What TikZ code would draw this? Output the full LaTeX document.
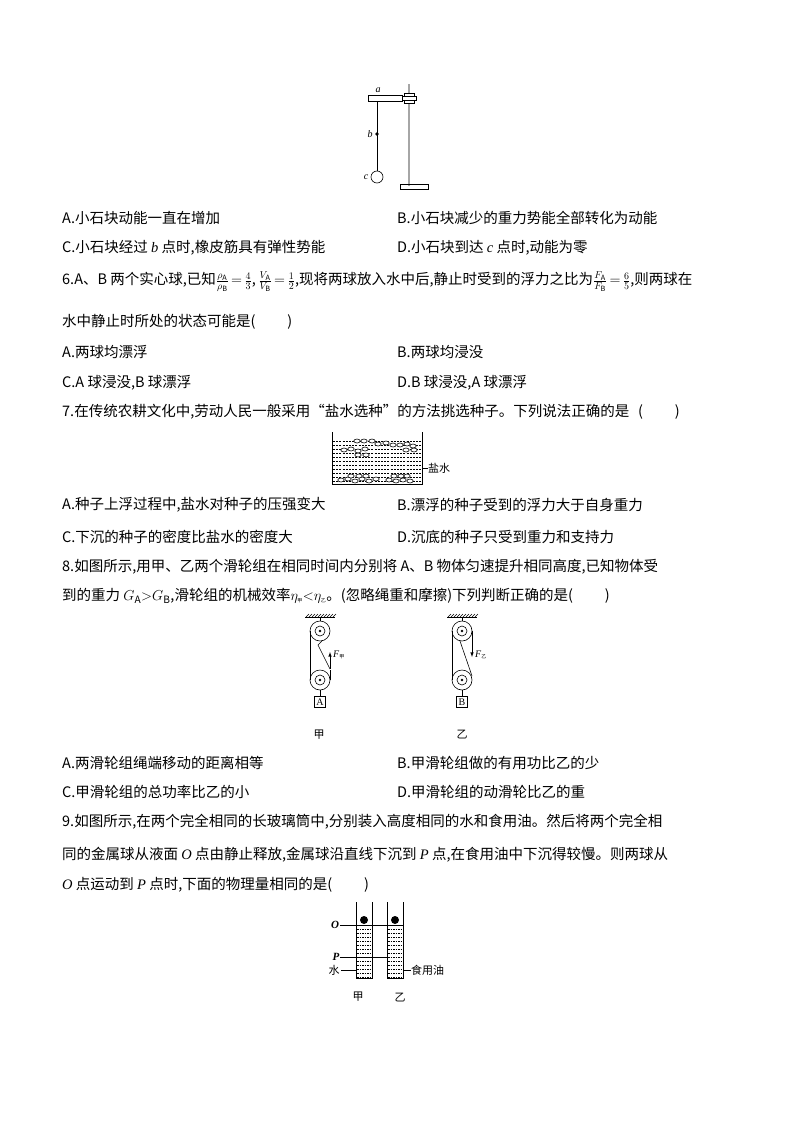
\documentclass[tikz,border=0pt]{standalone}
\usepackage{fontspec}
\setmainfont{Noto Sans CJK SC}
\newfontfamily\lat{Liberation Serif}
\begin{document}
\begin{tikzpicture}[x=1pt,y=-1pt,
  txt/.style={anchor=west,inner sep=0,font=\fontsize{14.5}{17}\selectfont},
  lab/.style={inner sep=0,font=\fontsize{11}{12}\selectfont},
  il/.style={inner sep=0,font=\fontsize{10}{12}\lat\itshape},
  thin/.style={line width=0.6pt}]
\useasboundingbox (0,0) rectangle (794,1124);
% figure 1
\draw[line width=2.6pt,gray!70] (409,84) -- (409,186);
\draw[thin] (400,184) rectangle (428,189);
\draw[thin,fill=white] (368,95) rectangle (402,101);
\draw[thin,fill=white] (404,93) rectangle (414,103);
\draw[thin,fill=white] (402,96) rectangle (416,100);
\draw[thin] (377,101) -- (377,171);
\node[circle,fill,inner sep=1.3pt] (b) at (377,134) {};
\node[circle,draw,thin,minimum size=12pt,inner sep=0] (c) at (377,177) {};
\node[il] at (378,90) {a};
\node[il] at (370,134) {b};
\node[il] at (366,177) {c};
% text
\node[txt] at (62,218) {A.小石块动能一直在增加};
\node[txt] at (397,218) {B.小石块减少的重力势能全部转化为动能};
\node[txt] at (62,248) {C.小石块经过 \textit{\lat b} 点时,橡皮筋具有弹性势能};
\node[txt] at (397,248) {D.小石块到达 \textit{\lat c} 点时,动能为零};
\node[txt] at (62,282) {6.A、B 两个实心球,已知$\frac{\rho_{\rm A}}{\rho_{\rm B}}\,{=}\,\frac{4}{3}$,\,$\frac{V_{\rm A}}{V_{\rm B}}\,{=}\,\frac{1}{2}$,现将两球放入水中后,静止时受到的浮力之比为$\frac{F_{\rm A}}{F_{\rm B}}\,{=}\,\frac{6}{5}$,则两球在};
\node[txt] at (62,322) {水中静止时所处的状态可能是(\hspace{2.2em})};
\node[txt] at (62,352) {A.两球均漂浮};
\node[txt] at (397,352) {B.两球均浸没};
\node[txt] at (62,383) {C.A 球浸没,B 球漂浮};
\node[txt] at (397,383) {D.B 球浸没,A 球漂浮};
\node[txt] at (62,412) {7.在传统农耕文化中,劳动人民一般采用“盐水选种”的方法挑选种子。下列说法正确的是\hspace{0.6em}(\hspace{2.2em})};
% salt water
\draw[thin] (332,432) -- (332,484) -- (422,484) -- (422,432);
\foreach \y in {441,445,...,483} \draw[thin,dash pattern=on 2pt off 1.2pt] (333,\y) -- (421,\y);
\foreach \x/\y in {357/441, 364/441, 372/441, 378/444, 386/443, 393/445, 400/445, 407/444, 413/446, 344/450, 351/449, 358/451, 365/449, 358/455, 366/455, 406/450, 414/450,
  341/480, 348/479, 355/481, 362/479, 369/481, 376/479, 351/476, 359/476, 366/476, 389/480, 396/481, 403/480, 410/481, 394/476, 401/476, 407/476}
  \draw[thin,fill=white] (\x,\y) ellipse (3.2pt and 2pt);
\draw[thin] (422,468) -- (428,468);
\node[lab,anchor=west] at (428,468) {盐水};
\node[txt] at (62,505) {A.种子上浮过程中,盐水对种子的压强变大};
\node[txt] at (397,505) {B.漂浮的种子受到的浮力大于自身重力};
\node[txt] at (62,537) {C.下沉的种子的密度比盐水的密度大};
\node[txt] at (397,537) {D.沉底的种子只受到重力和支持力};
\node[txt] at (62,567) {8.如图所示,用甲、乙两个滑轮组在相同时间内分别将 A、B 物体匀速提升相同高度,已知物体受};
\node[txt] at (62,596) {到的重力 $G_{\rm A}{>}G_{\rm B}$,滑轮组的机械效率$\eta_{\hbox{\tiny 甲}}{<}\eta_{\hbox{\tiny 乙}}$。(忽略绳重和摩擦)下列判断正确的是(\hspace{2.2em})};
% pulleys
\foreach \cx/\nm in {320/ja,462/yi}{
  \draw[thin] (\cx-15,617) -- (\cx+15,617);
  \foreach \i in {0,...,9} \draw[thin] (\cx-14+3*\i,617) -- (\cx-11+3*\i,614);
  \draw[thin] (\cx,617) -- (\cx,621);
  \node[circle,draw,thin,minimum size=20pt,inner sep=0] (\nm f) at (\cx,631) {};
  \draw[thin] (\cx,631) circle (5pt); \fill (\cx,631) circle (1.3pt);
  \node[circle,draw,thin,minimum size=20pt,inner sep=0] (\nm m) at (\cx,680) {};
  \draw[thin] (\cx,680) circle (5pt); \fill (\cx,680) circle (1.3pt);
  \draw[thin] (\cx,690) -- (\cx,696);
}
\draw[thin] (310,631) -- (310,680);
\draw[thin] (322,641) -- (318,645) -- (330,669);
\draw[thin] (330,680) -- (330,670);
\draw[thin,-latex] (330,669) -- (330,652);
\node[il,anchor=west] at (333,655) {F\textsubscript{\tiny\normalfont 甲}};
\draw[thin] (452,631) -- (452,680);
\draw[thin] (460,641) -- (472,676);
\draw[thin,-latex] (472,631) -- (472,657);
\node[il,anchor=west] at (475,655) {F\textsubscript{\tiny\normalfont 乙}};
\node[draw,thin,minimum size=11pt,inner sep=0,font=\fontsize{10}{11}\lat] (A) at (320,702) {A};
\node[draw,thin,minimum size=11pt,inner sep=0,font=\fontsize{10}{11}\lat] (B) at (462,702) {B};
\node[lab] at (319,735) {甲};
\node[lab] at (462,735) {乙};
\node[txt] at (62,763) {A.两滑轮组绳端移动的距离相等};
\node[txt] at (397,763) {B.甲滑轮组做的有用功比乙的少};
\node[txt] at (62,792) {C.甲滑轮组的总功率比乙的小};
\node[txt] at (397,792) {D.甲滑轮组的动滑轮比乙的重};
\node[txt] at (62,822) {9.如图所示,在两个完全相同的长玻璃筒中,分别装入高度相同的水和食用油。然后将两个完全相};
\node[txt] at (62,855) {同的金属球从液面 \textit{\lat O} 点由静止释放,金属球沿直线下沉到 \textit{\lat P} 点,在食用油中下沉得较慢。则两球从};
\node[txt] at (62,885) {\textit{\lat O} 点运动到 \textit{\lat P} 点时,下面的物理量相同的是(\hspace{2.2em})};
% tubes
\foreach \x in {356,387}{
  \draw[thin] (\x,902) -- (\x,978) -- (\x+16,978) -- (\x+16,902);
  \foreach \y in {929,933,...,977} \draw[thin,dash pattern=on 1.5pt off 1pt] (\x+1,\y) -- (\x+15,\y);
  \fill (\x+8,920) circle (4pt);
}
\draw[thin] (340,925) -- (403,925);
\draw[thin] (340,957) -- (387,957);
\draw[thin] (341,970) -- (356,970);
\draw[thin] (403,970) -- (411,970);
\node[il,font=\fontsize{11}{12}\lat\itshape\bfseries] at (335,925) {O};
\node[il,font=\fontsize{11}{12}\lat\itshape\bfseries] at (336,957) {P};
\node[lab] at (334,970) {水};
\node[lab,anchor=west] at (411,970) {食用油};
\node[lab] at (358,997) {甲};
\node[lab] at (400,998) {乙};
\end{tikzpicture}
\end{document}
